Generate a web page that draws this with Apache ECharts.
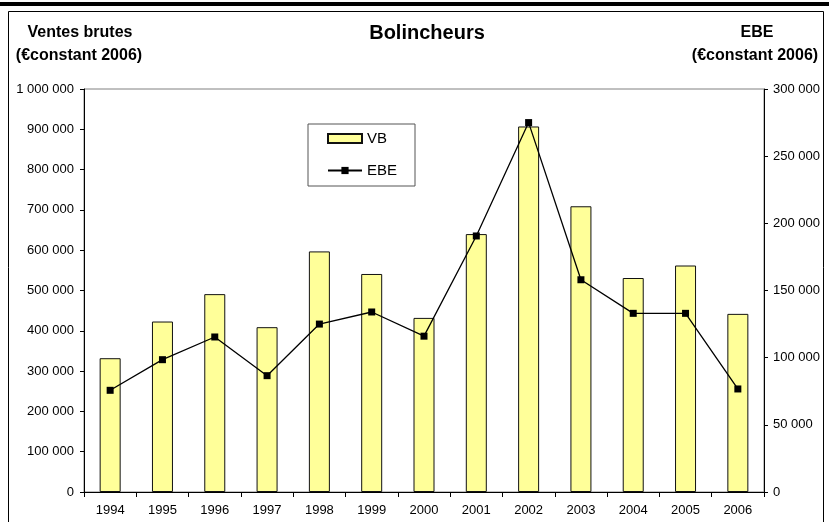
<!DOCTYPE html>
<html>
<head>
<meta charset="utf-8">
<script src="https://cdn.jsdelivr.net/npm/echarts@6/dist/echarts.min.js"></script>
<style>
  html, body { margin: 0; padding: 0; background: #fff; }
  #chart { width: 829px; height: 522px; }
</style>
</head>
<body>
<div id="chart"></div>
<script>
	// data
	var years = ['1994', '1995', '1996', '1997', '1998', '1999', '2000', '2001', '2002', '2003', '2004', '2005', '2006'];
	var ventesBrutes = [332000, 423000, 491000, 409000, 597000, 541000, 432000, 640000, 907000, 709000, 531000, 562000, 442000];
	var ebe = [75700, 98500, 115400, 86600, 125000, 134000, 116000, 190600, 275000, 158000, 133000, 133000, 76700];

	var font = '"Liberation Sans", Arial, sans-serif';

	function spaced(v) {
		return String(v).replace(/\B(?=(\d{3})+(?!\d))/g, ' ');
	}

	let chart = echarts.init(document.getElementById('chart'), null, { renderer: 'canvas' });

	let option = {
		animation: false,
		backgroundColor: '#fff',
		textStyle: { fontFamily: font, color: '#000' },
		graphic: [
			// thick rule at the very top and the chart frame
			{ type: 'rect', shape: { x: 0, y: 2, width: 829, height: 4 }, style: { fill: '#000' } },
			{ type: 'rect', shape: { x: 8.5, y: 11.5, width: 815, height: 520 }, style: { fill: null, stroke: '#000', lineWidth: 1 } },
			{ type: 'text', x: 427, y: 33, style: { text: 'Bolincheurs', font: 'bold 20px ' + font, fill: '#000', align: 'center', verticalAlign: 'middle' } },
			{ type: 'text', x: 80, y: 33, style: { text: 'Ventes brutes', font: 'bold 16px ' + font, fill: '#000', align: 'center', verticalAlign: 'middle' } },
			{ type: 'text', x: 79, y: 56, style: { text: '(€constant 2006)', font: 'bold 16px ' + font, fill: '#000', align: 'center', verticalAlign: 'middle' } },
			{ type: 'text', x: 757, y: 33, style: { text: 'EBE', font: 'bold 16px ' + font, fill: '#000', align: 'center', verticalAlign: 'middle' } },
			{ type: 'text', x: 755, y: 56, style: { text: '(€constant 2006)', font: 'bold 16px ' + font, fill: '#000', align: 'center', verticalAlign: 'middle' } }
		],
		grid: {
			left: 84, right: 65, top: 89, bottom: 30,
			show: true, borderColor: '#808080', borderWidth: 1, backgroundColor: 'transparent'
		},
		legend: {
			orient: 'vertical',
			left: 308, top: 124,
			padding: [7, 18, 8, 19],
			itemGap: 17,
			itemWidth: 34, itemHeight: 9,
			borderColor: '#555', borderWidth: 1,
			textStyle: { fontSize: 15, fontFamily: font, color: '#000' },
			data: [{ name: 'VB', icon: 'rect' }, { name: 'EBE' }]
		},
		xAxis: {
			type: 'category',
			data: years,
			boundaryGap: true,
			axisLine: { lineStyle: { color: '#000', width: 1 } },
			axisTick: { show: true, length: 5, lineStyle: { color: '#000' } },
			axisLabel: { fontSize: 13, color: '#000', margin: 12 }
		},
		yAxis: [{
			type: 'value',
			min: 0, max: 1000000, interval: 100000,
			axisLine: { show: true, lineStyle: { color: '#000', width: 1 } },
			axisTick: { show: true, length: 4, lineStyle: { color: '#000' } },
			splitLine: { show: false },
			axisLabel: { fontSize: 13, color: '#000', margin: 10, formatter: spaced }
		}, {
			type: 'value',
			position: 'right',
			min: 0, max: 300000, interval: 50000,
			axisLine: { show: true, lineStyle: { color: '#000', width: 1 } },
			axisTick: { show: true, length: 4, lineStyle: { color: '#000' } },
			splitLine: { show: false },
			axisLabel: { fontSize: 13, color: '#000', margin: 9, formatter: spaced }
		}],
		series: [{
			name: 'VB',
			type: 'bar',
			barWidth: 21,
			yAxisIndex: 0,
			itemStyle: { color: '#FFFF99', borderColor: '#111', borderWidth: 1 },
			data: ventesBrutes
		}, {
			name: 'EBE',
			type: 'line',
			yAxisIndex: 1,
			symbol: 'rect',
			symbolSize: 7,
			lineStyle: { color: '#000', width: 1.3 },
			itemStyle: { color: '#000' },
			data: ebe
		}]
	};

	chart.setOption(option);
</script>
</body>
</html>
